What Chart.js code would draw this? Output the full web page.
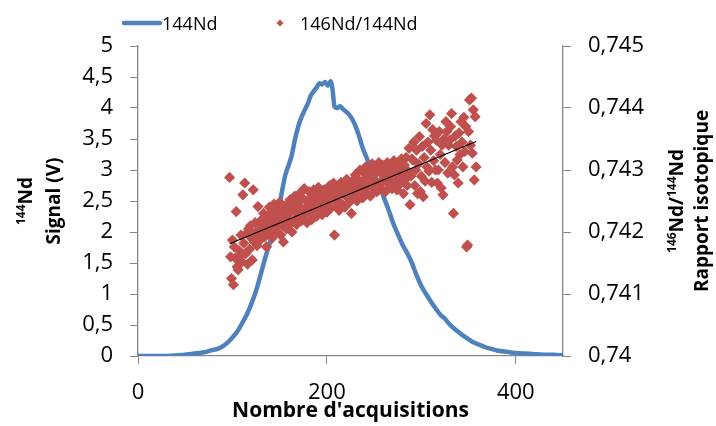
<!DOCTYPE html>
<html lang="fr">
  <head>
    <meta charset="UTF-8" />
    <title>Signal 144Nd et rapport 146Nd/144Nd</title>
    <script src="https://cdn.jsdelivr.net/npm/chart.js@4.4.1/dist/chart.umd.min.js"></script>
    <style>
      body { margin: 0; background: #fff; }
    </style>
  </head>
  <body>
    <canvas id="myChart" width="716" height="426"></canvas>
    <script>
      // 144Nd signal (V) against acquisition number
      const signalX = [0, 10, 20, 30, 40, 50, 55, 60, 65, 70, 75, 80, 85, 90, 95, 100, 105, 110, 115, 120,
        125, 130, 135, 140, 145, 148, 150, 153, 156, 160, 163, 166, 170, 173, 176, 180, 183, 186, 189, 192,
        195, 198, 201, 204, 206, 208, 211, 214, 218, 222, 226, 230, 234, 238, 242, 246, 250, 255, 260, 265,
        270, 275, 280, 285, 290, 295, 300, 305, 310, 315, 320, 325, 330, 335, 340, 345, 350, 355, 360, 365,
        370, 375, 380, 390, 400, 410, 420, 430, 440, 450]
      const signalY = [0, 0, 0, 0, 0.01, 0.02, 0.03, 0.04, 0.05, 0.06, 0.08, 0.1, 0.12, 0.16, 0.22, 0.3, 0.39, 0.52, 0.66, 0.84,
        1.05, 1.32, 1.6, 1.84, 2.1, 2.3, 2.45, 2.7, 2.92, 3.1, 3.25, 3.48, 3.72, 3.85, 3.95, 4.08, 4.2, 4.27, 4.33, 4.4,
        4.38, 4.42, 4.36, 4.43, 4.3, 4.02, 4.0, 4.03, 3.97, 3.92, 3.84, 3.72, 3.55, 3.35, 3.2, 3.05, 2.93, 2.78, 2.57, 2.37,
        2.15, 1.97, 1.8, 1.66, 1.5, 1.3, 1.13, 1.0, 0.88, 0.77, 0.67, 0.6, 0.51, 0.44, 0.38, 0.32, 0.27, 0.22, 0.19, 0.16,
        0.13, 0.11, 0.09, 0.07, 0.05, 0.04, 0.03, 0.02, 0.02, 0.01]

      // 146Nd/144Nd ratio, one value per acquisition starting at ratioFirst
      const ratioFirst = 97
      const ratioY = [
        0.74288, 0.74160, 0.74125, 0.74187, 0.74115, 0.74176, 0.74158, 0.74233, 0.74144, 0.74139,
        0.74170, 0.74160, 0.74195, 0.74152, 0.74260, 0.74182, 0.74279, 0.74165, 0.74198, 0.74148,
        0.74205, 0.74172, 0.74210, 0.74190, 0.74155, 0.74268, 0.74184, 0.74215, 0.74200, 0.74178,
        0.74241, 0.74195, 0.74212, 0.74188, 0.74220, 0.74205, 0.74230, 0.74192, 0.74215, 0.74176,
        0.74225, 0.74198, 0.74240, 0.74210, 0.74232, 0.74190, 0.74218, 0.74245, 0.74205, 0.74228,
        0.74200, 0.74235, 0.74215, 0.74248, 0.74195, 0.74225, 0.74210, 0.74184, 0.74238, 0.74220,
        0.74205, 0.74245, 0.74228, 0.74212, 0.74252, 0.74235, 0.74200, 0.74240, 0.74218, 0.74258,
        0.74232, 0.74212, 0.74248, 0.74225, 0.74262, 0.74240, 0.74218, 0.74255, 0.74235, 0.74270,
        0.74228, 0.74250, 0.74215, 0.74242, 0.74265, 0.74232, 0.74255, 0.74220, 0.74248, 0.74268,
        0.74240, 0.74258, 0.74225, 0.74250, 0.74272, 0.74235, 0.74262, 0.74245, 0.74228, 0.74255,
        0.74268, 0.74240, 0.74258, 0.74232, 0.74262, 0.74248, 0.74275, 0.74238, 0.74255, 0.74265,
        0.74279, 0.74195, 0.74258, 0.74242, 0.74270, 0.74250, 0.74235, 0.74265, 0.74280, 0.74245,
        0.74262, 0.74275, 0.74240, 0.74268, 0.74285, 0.74255, 0.74272, 0.74248, 0.74265, 0.74230,
        0.74282, 0.74258, 0.74275, 0.74292, 0.74262, 0.74250, 0.74285, 0.74270, 0.74300, 0.74265,
        0.74280, 0.74255, 0.74295, 0.74272, 0.74305, 0.74262, 0.74288, 0.74275, 0.74298, 0.74258,
        0.74290, 0.74310, 0.74270, 0.74295, 0.74282, 0.74305, 0.74265, 0.74298, 0.74312, 0.74278,
        0.74295, 0.74270, 0.74308, 0.74285, 0.74300, 0.74265, 0.74290, 0.74312, 0.74278, 0.74302,
        0.74285, 0.74305, 0.74270, 0.74298, 0.74315, 0.74280, 0.74295, 0.74268, 0.74310, 0.74288,
        0.74302, 0.74278, 0.74318, 0.74292, 0.74262, 0.74308, 0.74285, 0.74320, 0.74275, 0.74298,
        0.74335, 0.74244, 0.74290, 0.74318, 0.74316, 0.74345, 0.74275, 0.74300, 0.74332, 0.74262,
        0.74310, 0.74354, 0.74265, 0.74290, 0.74338, 0.74257, 0.74320, 0.74282, 0.74375, 0.74305,
        0.74345, 0.74298, 0.74389, 0.74332, 0.74280, 0.74365, 0.74315, 0.74355, 0.74300, 0.74348,
        0.74279, 0.74300, 0.74362, 0.74325, 0.74271, 0.74340, 0.74260, 0.74350, 0.74312, 0.74378,
        0.74362, 0.74295, 0.74340, 0.74348, 0.74370, 0.74391, 0.74305, 0.74230, 0.74292, 0.74355,
        0.74338, 0.74316, 0.74279, 0.74360, 0.74325, 0.74378, 0.74345, 0.74305, 0.74385, 0.74330,
        0.74370, 0.74176, 0.74179, 0.74362, 0.74413, 0.74340, 0.74416, 0.74327, 0.74397, 0.74284,
        0.74386, 0.74305
      ]

      // linear trend of the ratio (end points)
      const trendX = [97, 358]
      const trendY = [0.74181, 0.74346]

      const xTicks = [0, 200, 400]
      const leftTicks = [0, 0.5, 1, 1.5, 2, 2.5, 3, 3.5, 4, 4.5, 5]
      const rightTicks = [0.74, 0.741, 0.742, 0.743, 0.744, 0.745]

      const blue = "#4f81bd"
      const red = "#c0504d"
      const axisGray = "#868686"
      const font = '"Open Sans", "DejaVu Sans", sans-serif'

      function rich(ctx, parts, x, y, angle, size, bold) {
        ctx.save()
        ctx.translate(x, y)
        ctx.rotate(angle)
        ctx.textBaseline = "middle"
        ctx.textAlign = "left"
        const fontFor = (sup) =>
          (bold ? "bold " : "") + (sup ? Math.round(size * 0.62) : size) + "px " + font
        let w = 0
        parts.forEach(([t, sup]) => {
          ctx.font = fontFor(sup)
          w += ctx.measureText(t).width
        })
        let cx = -w / 2
        parts.forEach(([t, sup]) => {
          ctx.font = fontFor(sup)
          ctx.fillText(t, cx, sup ? -size * 0.3 : 0)
          cx += ctx.measureText(t).width
        })
        ctx.restore()
      }

      // legend and axis titles (with superscripts)
      const decor = {
        id: "decor",
        afterDraw(chart) {
          const { ctx, chartArea: a } = chart
          const midY = (a.top + a.bottom) / 2
          ctx.save()
          ctx.fillStyle = "#000"

          // legend
          ctx.strokeStyle = blue
          ctx.lineWidth = 4.5
          ctx.lineCap = "round"
          ctx.beginPath()
          ctx.moveTo(124, 23)
          ctx.lineTo(160, 23)
          ctx.stroke()
          ctx.font = "18px " + font
          ctx.textBaseline = "middle"
          ctx.fillText("144Nd", 162, 25)
          ctx.fillStyle = red
          ctx.beginPath()
          ctx.moveTo(280, 19.5)
          ctx.lineTo(283.5, 23)
          ctx.lineTo(280, 26.5)
          ctx.lineTo(276.5, 23)
          ctx.closePath()
          ctx.fill()
          ctx.fillStyle = "#000"
          ctx.fillText("146Nd/144Nd", 300, 25)

          // axis titles
          rich(ctx, [["144", 1], ["Nd", 0]], 27, midY, -Math.PI / 2, 19, true)
          rich(ctx, [["Signal (V)", 0]], 55, midY, -Math.PI / 2, 19, true)
          rich(ctx, [["146", 1], ["Nd/", 0], ["144", 1], ["Nd", 0]], 678, midY, -Math.PI / 2, 19, true)
          rich(ctx, [["Rapport isotopique", 0]], 703, midY, -Math.PI / 2, 19, true)
          rich(ctx, [["Nombre d'acquisitions", 0]], (a.left + a.right) / 2, 411, 0, 21, true)
          ctx.restore()
        },
      }

      const ctx = document.getElementById("myChart").getContext("2d")
      new Chart(ctx, {
        data: {
          datasets: [
            {
              type: "line",
              label: "Tendance",
              data: trendX.map((x, i) => ({ x, y: trendY[i] })),
              yAxisID: "y1",
              borderColor: "#000",
              borderWidth: 1.2,
              pointRadius: 0,
              order: 0,
            },
            {
              type: "scatter",
              label: "146Nd/144Nd",
              data: ratioY.map((y, i) => ({ x: ratioFirst + i, y })),
              yAxisID: "y1",
              pointStyle: "rectRot",
              pointRadius: 5.6,
              backgroundColor: red,
              borderColor: red,
              borderWidth: 0,
              order: 1,
            },
            {
              type: "line",
              label: "144Nd",
              data: signalX.map((x, i) => ({ x, y: signalY[i] })),
              yAxisID: "y",
              borderColor: blue,
              borderWidth: 4.5,
              pointRadius: 0,
              tension: 0.15,
              order: 2,
            },
          ],
        },
        options: {
          responsive: false,
          animation: false,
          devicePixelRatio: 1,
          layout: { padding: { top: 46 } },
          plugins: { legend: { display: false }, tooltip: { enabled: false } },
          scales: {
            x: {
              type: "linear",
              min: 0,
              max: 450,
              afterBuildTicks: (s) => { s.ticks = xTicks.map((v) => ({ value: v })) },
              afterFit: (s) => { s.height = 70 },
              grid: { drawOnChartArea: false, color: axisGray, tickLength: 8 },
              border: { color: axisGray, width: 1.3 },
              ticks: { color: "#000", padding: 16, font: { family: font, size: 22 } },
            },
            y: {
              position: "left",
              min: 0,
              max: 5,
              afterBuildTicks: (s) => { s.ticks = leftTicks.map((v) => ({ value: v })) },
              afterFit: (s) => { s.width = 138 },
              grid: { drawOnChartArea: false, color: axisGray, tickLength: 8 },
              border: { color: axisGray, width: 1.3 },
              ticks: {
                color: "#000",
                padding: 17,
                font: { family: font, size: 22 },
                callback: (v) => String(v).replace(".", ","),
              },
            },
            y1: {
              position: "right",
              min: 0.74,
              max: 0.745,
              afterBuildTicks: (s) => { s.ticks = rightTicks.map((v) => ({ value: v })) },
              afterFit: (s) => { s.width = 153 },
              grid: { drawOnChartArea: false, color: axisGray, tickLength: 8 },
              border: { color: axisGray, width: 1.3 },
              ticks: {
                color: "#000",
                padding: 17,
                font: { family: font, size: 22 },
                callback: (v) => v.toFixed(3).replace(/0+$/, "").replace(".", ","),
              },
            },
          },
        },
        plugins: [decor],
      })
    </script>
  </body>
</html>
